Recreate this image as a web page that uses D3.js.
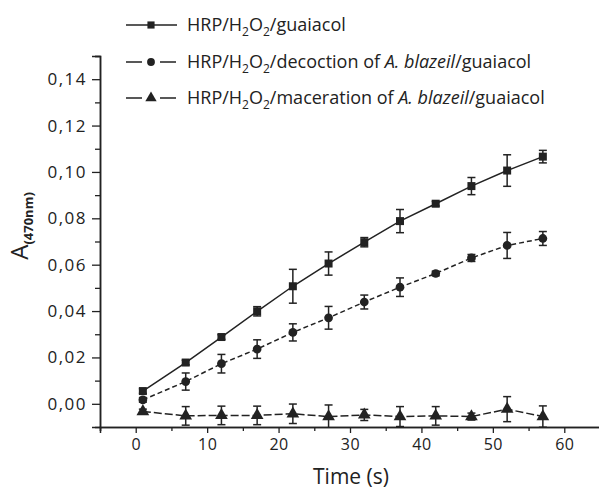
<!DOCTYPE html>
<html>
<head>
<meta charset="utf-8">
<script src="https://cdn.jsdelivr.net/npm/d3@7"></script>
<style>
  body { margin: 0; background: #fff; }
  text { font-family: "Open Sans", sans-serif; fill: #222; }
</style>
</head>
<body>
<script>
// data
var times = [1, 7, 12, 17, 22, 27, 32, 37, 42, 47, 52, 57];
var guaiacol = [0.0055, 0.0178, 0.0288, 0.0399, 0.0507, 0.0605, 0.0697, 0.0788, 0.0863, 0.0939, 0.1006, 0.1066];
var guaiacolErr = [0.001, 0.001, 0.001, 0.002, 0.0073, 0.005, 0.002, 0.005, 0.001, 0.0037, 0.0068, 0.0027];
var decoction = [0.0017, 0.0096, 0.0173, 0.0236, 0.0308, 0.0371, 0.0439, 0.0503, 0.0562, 0.0629, 0.0683, 0.0713];
var decoctionErr = [0.001, 0.0037, 0.004, 0.004, 0.0037, 0.0049, 0.003, 0.004, 0.001, 0.0015, 0.0056, 0.003];
var maceration = [-0.0033, -0.0052, -0.005, -0.005, -0.0043, -0.0055, -0.0048, -0.0055, -0.0052, -0.0055, -0.0023, -0.0055];
var macerationErr = [0.001, 0.004, 0.004, 0.004, 0.0042, 0.005, 0.0024, 0.0043, 0.004, 0.0015, 0.0054, 0.0046];
var yTicks = [0, 0.02, 0.04, 0.06, 0.08, 0.10, 0.12, 0.14];
var yMinor = [0.01, 0.03, 0.05, 0.07, 0.09, 0.11, 0.13, 0.15];
var xTicks = [0, 10, 20, 30, 40, 50, 60];
var xMinor = [-5, 5, 15, 25, 35, 45, 55];

var width = 599, height = 491;
var ink = "#222";

var svg = d3.select("body")
            .append("svg")
            .attr("width", width)
            .attr("height", height);

var x = d3.scaleLinear().domain([-5, 65]).range([100, 600]);
var y = d3.scaleLinear().domain([-0.01, 0.15]).range([427, 56]);

var series = [
  {name: "guaiacol", vals: guaiacol, err: guaiacolErr, shape: d3.symbolSquare, size: 64, dash: null},
  {name: "decoction", vals: decoction, err: decoctionErr, shape: d3.symbolCircle, size: 60, dash: "5,3"},
  {name: "maceration", vals: maceration, err: macerationErr, shape: d3.symbolTriangle, size: 70, dash: "8,3"}
];

svg.append("defs").append("clipPath").attr("id", "plot")
   .append("rect").attr("x", 100).attr("y", 56).attr("width", 500).attr("height", 371);

var plot = svg.append("g").attr("clip-path", "url(#plot)");

series.forEach(function(s) {
  var pts = times.map(function(t, i) { return {t: t, v: s.vals[i], e: s.err[i]}; });
  var line = d3.line().x(d => x(d.t)).y(d => y(d.v));
  plot.append("path")
      .datum(pts)
      .attr("d", line)
      .attr("fill", "none")
      .attr("stroke", ink)
      .attr("stroke-width", 1.5)
      .attr("stroke-dasharray", s.dash);

  var eb = plot.append("g").attr("stroke", ink).attr("stroke-width", 1.5);
  pts.forEach(function(d) {
    var cx = x(d.t), y1 = y(d.v + d.e), y2 = y(d.v - d.e);
    eb.append("line").attr("x1", cx).attr("x2", cx).attr("y1", y1).attr("y2", y2);
    eb.append("line").attr("x1", cx - 4).attr("x2", cx + 4).attr("y1", y1).attr("y2", y1);
    eb.append("line").attr("x1", cx - 4).attr("x2", cx + 4).attr("y1", y2).attr("y2", y2);
  });

  plot.selectAll(null)
      .data(pts).enter()
      .append("path")
      .attr("d", d3.symbol().type(s.shape).size(s.size))
      .attr("transform", d => "translate(" + x(d.t) + "," + y(d.v) + ")")
      .attr("fill", ink);
});

// axes
var fmt = d => d3.format(".2f")(d).replace(".", ",");

var yAxis = d3.axisLeft(y).tickValues(yTicks).tickSize(8).tickPadding(5).tickFormat(fmt);
var gy = svg.append("g").attr("transform", "translate(100,0)").call(yAxis);
gy.append("g").call(d3.axisLeft(y).tickValues(yMinor).tickSize(5).tickFormat(""));

var xAxis = d3.axisBottom(x).tickValues(xTicks).tickSize(6).tickPadding(6);
var gx = svg.append("g").attr("transform", "translate(0,427)").call(xAxis);
gx.append("g").call(d3.axisBottom(x).tickValues(xMinor).tickSize(4).tickFormat(""));

svg.selectAll(".domain").attr("stroke", ink).attr("stroke-width", 1.5);
svg.selectAll(".tick line").attr("stroke", ink).attr("stroke-width", 1.3);
svg.selectAll(".tick text").attr("fill", ink)
   .style("font-family", "'Open Sans', sans-serif");
gy.selectAll(".tick text").attr("font-size", 17).style("letter-spacing", "1.5px");
gx.selectAll(".tick text").attr("font-size", 16).style("letter-spacing", "0.5px");

// axis titles
svg.append("text")
   .attr("x", 351).attr("y", 484)
   .attr("text-anchor", "middle")
   .attr("font-size", 21)
   .attr("font-weight", 500)
   .text("Time (s)");

var yl = svg.append("text")
   .attr("transform", "translate(28,226) rotate(-90)")
   .attr("text-anchor", "middle");
yl.append("tspan").attr("font-size", 24).text("A");
yl.append("tspan").attr("font-size", 13).attr("font-weight", 700).attr("dy", 5).text("(470nm)");

// legend
var legendRows = [25, 62, 98];
series.forEach(function(s, i) {
  var g = svg.append("g").attr("transform", "translate(0," + legendRows[i] + ")");
  g.append("line").attr("x1", 126).attr("x2", 177).attr("y1", 0).attr("y2", 0)
   .attr("stroke", ink).attr("stroke-width", 1.5)
   .attr("stroke-dasharray", i === 0 ? null : "16,18");
  g.append("path").attr("d", d3.symbol().type(s.shape).size(s.size * 0.8))
   .attr("transform", "translate(151,0)").attr("fill", ink);
  var t = g.append("text").attr("x", 187).attr("y", 6).attr("font-size", 18);
  t.append("tspan").text("HRP/H");
  t.append("tspan").attr("font-size", 12).attr("dy", 5).text("2");
  t.append("tspan").attr("dy", -5).text("O");
  t.append("tspan").attr("font-size", 12).attr("dy", 5).text("2");
  if (i === 0) {
    t.append("tspan").attr("dy", -5).text("/guaiacol");
  } else {
    t.append("tspan").attr("dy", -5).text(i === 1 ? "/decoction of " : "/maceration of ");
    t.append("tspan").attr("font-style", "italic").text("A. blazeil");
    t.append("tspan").text("/guaiacol");
  }
});
</script>
</body>
</html>
